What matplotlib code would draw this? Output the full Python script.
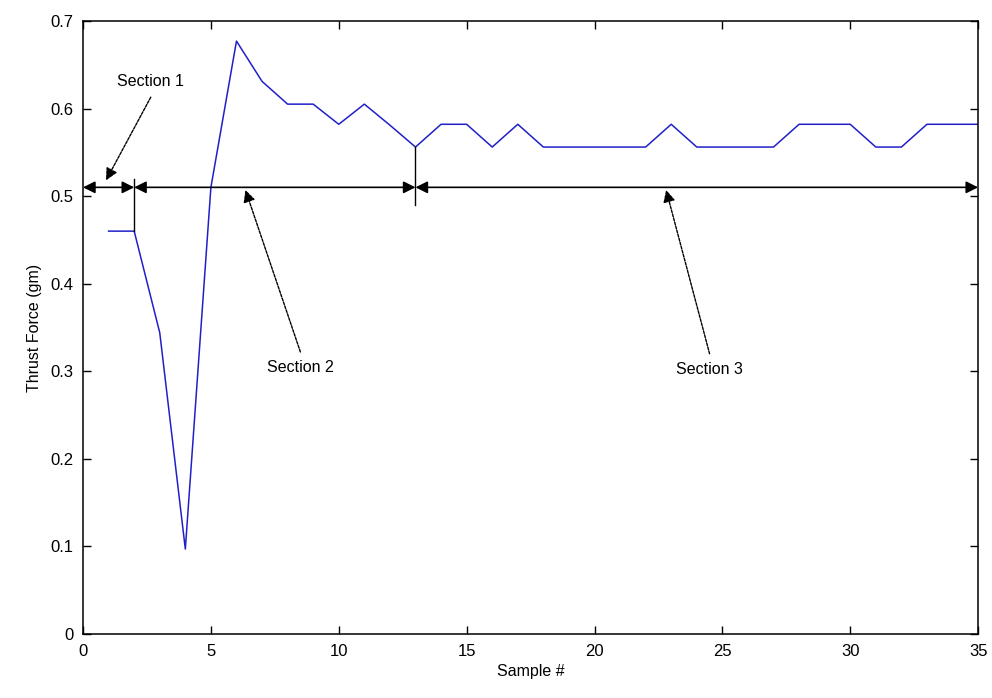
import numpy as np
import matplotlib.pyplot as plt

# thrust force per sample
samples = list(range(1, 36))
thrust = [0.46, 0.46, 0.344, 0.097, 0.51, 0.677, 0.631, 0.605, 0.605, 0.582,
          0.605, 0.581, 0.556, 0.582, 0.582, 0.556, 0.582, 0.556, 0.556, 0.556,
          0.556, 0.556, 0.582, 0.556, 0.556, 0.556, 0.556, 0.582, 0.582, 0.582,
          0.556, 0.556, 0.582, 0.582, 0.582]

# section boundaries along the arrow line
section_edges = [0, 2, 13, 35]
arrow_y = 0.51
section_labels = ['Section 1', 'Section 2', 'Section 3']
label_pos = [(2.65, 0.631), (8.5, 0.304), (24.5, 0.302)]
label_tails = [(2.65, 0.613), (8.5, 0.322), (24.5, 0.320)]
label_tips = [(0.9, 0.518), (6.35, 0.507), (22.8, 0.507)]

# vertical marker bars at the section boundaries
marker_x = [2, 13]
marker_y = [(0.46, 0.52), (0.49, 0.556)]

fig = plt.figure(figsize=(9.92, 6.98), dpi=100)
ax = fig.add_axes([0.0837, 0.0917, 0.9023, 0.8783])

ax.plot(samples, thrust, color='#2020c8', linewidth=1.1)

for x, (y0, y1) in zip(marker_x, marker_y):
    ax.plot([x, x], [y0, y1], color='black', linewidth=1.0)

for a, b in zip(section_edges[:-1], section_edges[1:]):
    ax.annotate('', xy=(b, arrow_y), xytext=(a, arrow_y),
                arrowprops=dict(arrowstyle='<|-|>', color='black', lw=1.2,
                                mutation_scale=18, shrinkA=0, shrinkB=0))

for lab, (tx, ty), tail, tip in zip(section_labels, label_pos, label_tails, label_tips):
    ax.annotate('', xy=tip, xytext=tail,
                arrowprops=dict(arrowstyle='-|>', color='black', lw=1.0,
                                linestyle=(0, (2, 1)),
                                mutation_scale=18, shrinkA=0, shrinkB=0))
    ax.text(tx, ty, lab, ha='center', va='center', fontsize=11.5,
            family='Liberation Sans')

ax.set_xlim(0, 35)
ax.set_ylim(0, 0.7)
ax.set_xticks(np.arange(0, 36, 5))
ax.set_yticks(np.arange(0, 0.71, 0.1))
ax.set_yticklabels(['0', '0.1', '0.2', '0.3', '0.4', '0.5', '0.6', '0.7'])
ax.tick_params(direction='in', top=True, right=True, length=6, width=1,
               labelsize=12, pad=7)
for lbl in ax.get_xticklabels() + ax.get_yticklabels():
    lbl.set_family('Liberation Sans')
for s in ax.spines.values():
    s.set_linewidth(1.1)

ax.set_xlabel('Sample #', fontsize=11.5, family='Liberation Sans', labelpad=4)
ax.set_ylabel('Thrust Force (gm)', fontsize=11.5, family='Liberation Sans',
              labelpad=6)

fig.savefig('out.png', dpi=100)
